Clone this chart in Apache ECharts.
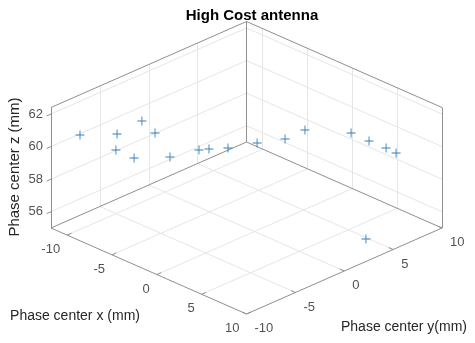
<!DOCTYPE html>
<html>
<head>
<meta charset="utf-8">
<script src="https://cdn.jsdelivr.net/npm/echarts@6/dist/echarts.min.js"></script>
<style>
  html, body { margin: 0; padding: 0; background: #ffffff; }
  #chart { width: 475px; height: 343px; }
</style>
</head>
<body>
<div id="chart"></div>
<script>
// Phase centre positions of the antenna (mm)
const phaseX = [-10.18, -8.12, -6.73, -6.00, -8.18, -7.17, -5.17, -3.55, -2.99, -1.93, -0.31, 1.25, 2.36, 4.93, 5.93, 6.88, 7.44, 8.19];
const phaseY = [-8.52, -6.62, -5.35, -4.68, -6.68, -5.75, -3.91, -2.43, -1.92, -0.95, 0.54, 1.97, 2.99, 5.35, 6.27, 7.14, 7.65, 3.88];
const phaseZ = [60.71, 60.77, 61.57, 60.83, 59.79, 59.30, 59.36, 59.79, 59.85, 59.91, 60.22, 60.47, 61.02, 60.83, 60.34, 59.91, 59.61, 55.50];

// Axis limits and ticks
const xLimits = [-11.8, 10];
const yLimits = [-10, 10];
const zLimits = [55, 62.4];
const xTicks = [-10, -5, 0, 5, 10];
const yTicks = [-10, -5, 0, 5, 10];
const zTicks = [56, 58, 60, 62];

// Orthographic 3-D view: screen position of the box origin and the three box edges
const view = {
  origin: [51, 228],
  ex: [195.5, 86],
  ey: [195.5, -86],
  ez: [0, -120.5]
};

function project(x, y, z) {
  const X = (x - xLimits[0]) / (xLimits[1] - xLimits[0]);
  const Y = (y - yLimits[0]) / (yLimits[1] - yLimits[0]);
  const Z = (z - zLimits[0]) / (zLimits[1] - zLimits[0]);
  return [
    view.origin[0] + X * view.ex[0] + Y * view.ey[0] + Z * view.ez[0],
    view.origin[1] + X * view.ex[1] + Y * view.ey[1] + Z * view.ez[1]
  ];
}

const [x0, x1] = xLimits, [y0, y1] = yLimits, [z0, z1] = zLimits;
const seg = (a, b) => ({ coords: [project(a[0], a[1], a[2]), project(b[0], b[1], b[2])] });

// Light grid on the floor and on the two back walls
const gridSegs = [];
xTicks.filter(t => t > x0 && t < x1).forEach(t => {
  gridSegs.push(seg([t, y0, z0], [t, y1, z0]));   // floor
  gridSegs.push(seg([t, y1, z0], [t, y1, z1]));   // back wall y = max
});
yTicks.filter(t => t > y0 && t < y1).forEach(t => {
  gridSegs.push(seg([x0, t, z0], [x1, t, z0]));   // floor
  gridSegs.push(seg([x0, t, z0], [x0, t, z1]));   // back wall x = min
});
zTicks.forEach(t => {
  gridSegs.push(seg([x0, y0, t], [x0, y1, t]));
  gridSegs.push(seg([x0, y1, t], [x1, y1, t]));
});

// Box edges and axis lines
const edgeSegs = [
  seg([x0, y0, z0], [x1, y0, z0]),   // x axis
  seg([x1, y0, z0], [x1, y1, z0]),   // y axis
  seg([x0, y0, z0], [x0, y0, z1]),   // z axis
  seg([x0, y0, z0], [x0, y1, z0]),
  seg([x0, y1, z0], [x1, y1, z0]),
  seg([x0, y1, z0], [x0, y1, z1]),
  seg([x1, y1, z0], [x1, y1, z1]),
  seg([x0, y0, z1], [x0, y1, z1]),
  seg([x0, y1, z1], [x1, y1, z1])
];

// Short tick marks
const tickLen = 0.022;
const tickSegs = [];
xTicks.forEach(t => tickSegs.push(seg([t, y0, z0], [t, y0 + tickLen * (y1 - y0), z0])));
yTicks.forEach(t => tickSegs.push(seg([x1, t, z0], [x1 - tickLen * (x1 - x0), t, z0])));
zTicks.forEach(t => tickSegs.push(seg([x0, y0, t], [x0, y0 - tickLen * (y1 - y0), t])));

const points = phaseX.map((x, i) => project(x, phaseY[i], phaseZ[i]));

const fontFamily = '"Liberation Sans", Arial, Helvetica, sans-serif';
const tickFont = { fontFamily: fontFamily, fontSize: 13, color: '#262626' };

function tickLabelSeries(values, toPoint, offset, align) {
  return {
    type: 'scatter',
    silent: true,
    symbolSize: 0,
    itemStyle: { color: 'transparent' },
    data: values.map(t => ({ value: toPoint(t), tick: t })),
    label: Object.assign({
      show: true,
      position: offset,
      align: align,
      verticalAlign: 'middle',
      formatter: p => String(p.data.tick)
    }, tickFont),
    z: 5
  };
}

const plusPath = 'path://M4.5,0H5.5V10H4.5ZM0,4.5H10V5.5H0Z';

const chart = echarts.init(document.getElementById('chart'), null, { renderer: 'canvas' });
chart.setOption({
  animation: false,
  backgroundColor: '#ffffff',
  title: {
    text: 'High Cost antenna',
    left: 247,
    top: 3,
    textAlign: 'center',
    textStyle: { fontFamily: fontFamily, fontSize: 15, fontWeight: 'bold', color: '#000000' }
  },
  grid: { left: 0, right: 0, top: 0, bottom: 0 },
  xAxis: { type: 'value', min: 0, max: 475, show: false },
  yAxis: { type: 'value', min: 0, max: 343, inverse: true, show: false },
  graphic: [
    {
      type: 'text', x: 15, y: 167, rotation: Math.PI / 2,
      style: { text: 'Phase center z (mm)', font: '15px "Liberation Sans", Arial, sans-serif', fill: '#262626', align: 'center', verticalAlign: 'middle' }
    },
    {
      type: 'text', x: 75, y: 316,
      style: { text: 'Phase center x (mm)', font: '14px "Liberation Sans", Arial, sans-serif', fill: '#262626', align: 'center', verticalAlign: 'middle' }
    },
    {
      type: 'text', x: 404, y: 327,
      style: { text: 'Phase center y(mm)', font: '14px "Liberation Sans", Arial, sans-serif', fill: '#262626', align: 'center', verticalAlign: 'middle' }
    }
  ],
  series: [
    {
      type: 'lines', coordinateSystem: 'cartesian2d', silent: true, z: 1,
      lineStyle: { color: '#e6e6e6', width: 1, opacity: 1 },
      data: gridSegs
    },
    {
      type: 'lines', coordinateSystem: 'cartesian2d', silent: true, z: 2,
      lineStyle: { color: '#8f8f8f', width: 1, opacity: 1 },
      data: edgeSegs.concat(tickSegs)
    },
    {
      type: 'scatter', z: 3,
      symbol: plusPath,
      symbolSize: 9,
      itemStyle: { color: '#1f72b3', opacity: 0.9 },
      data: points
    },
    tickLabelSeries(xTicks, t => project(t, y0, z0), [-7, 14.5], 'right'),
    tickLabelSeries(yTicks, t => project(x1, t, z0), [8, 14.5], 'left'),
    tickLabelSeries(zTicks, t => project(x0, y0, t), [-8, 0], 'right')
  ]
});
</script>
</body>
</html>
